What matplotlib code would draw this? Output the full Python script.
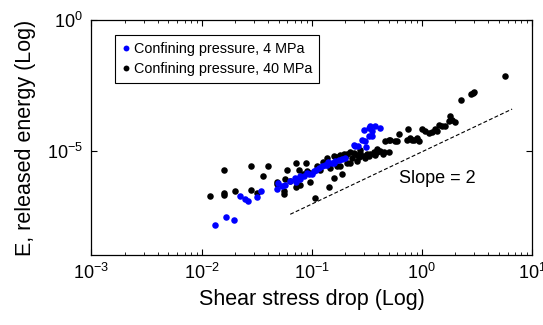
import numpy as np
import matplotlib
matplotlib.use('Agg')
import matplotlib.pyplot as plt

plt.rcParams['font.family'] = ['Liberation Sans', 'DejaVu Sans']
plt.rcParams['mathtext.fontset'] = 'custom'
plt.rcParams['mathtext.rm'] = 'Liberation Sans'

# confining pressure 4 MPa
shear_4 = [0.0132, 0.0167, 0.0198, 0.0221, 0.0249, 0.0262, 0.0319, 0.0348, 0.0483, 0.0499,
           0.0539, 0.0574, 0.0637, 0.0708, 0.0723, 0.0786, 0.0786, 0.0842, 0.0904, 0.0935,
           0.1004, 0.1038, 0.1153, 0.1238, 0.1327, 0.1374, 0.1527, 0.1578, 0.1635, 0.1752,
           0.1881, 0.2016, 0.2399, 0.2486, 0.2609, 0.2860, 0.3065, 0.311, 0.2958, 0.3285,
           0.3402, 0.3778, 0.4196, 0.3527, 0.3527, 0.3285, 0.1099, 0.1413]
energy_4 = [1.41e-8, 2.90e-8, 2.26e-8, 1.83e-7, 1.37e-7, 1.15e-7, 1.65e-7, 2.72e-7, 3.24e-7, 5.85e-7,
            4.34e-7, 4.82e-7, 6.73e-7, 9.08e-7, 6.17e-7, 7.82e-7, 1.045e-6, 1.045e-6, 1.41e-6, 1.21e-6,
            1.21e-6, 1.62e-6, 2.19e-6, 2.52e-6, 2.92e-6, 2.92e-6, 3.40e-6, 3.40e-6, 3.91e-6, 4.53e-6,
            4.82e-6, 5.26e-6, 1.59e-5, 1.46e-5, 1.55e-5, 2.63e-5, 2.26e-5, 1.34e-5, 6.05e-5, 7.35e-5,
            8.45e-5, 9.0e-5, 7.35e-5, 5.46e-5, 3.52e-5, 3.52e-5, 1.88e-6, 3.80e-6]

# confining pressure 40 MPa
shear_40 = [0.01195, 0.0159, 0.0159, 0.0159, 0.0199, 0.028, 0.040, 0.036, 0.028, 0.0316,
            0.0483, 0.0483, 0.0562, 0.0562, 0.0595, 0.0637, 0.0718, 0.0878, 0.0759, 0.0969,
            0.1076, 0.0969, 0.1114, 0.1422, 0.1578, 0.1881, 0.1374, 0.1694, 0.1578, 0.1815,
            0.1945, 0.2089, 0.2239, 0.2399, 0.2576, 0.2761, 0.2958, 0.3177, 0.3402, 0.3645,
            0.3915, 0.4196, 0.4496, 0.4989, 0.2089, 0.2239, 0.2576, 0.1815, 0.1472, 0.1694,
            0.3065, 0.4656, 0.4989, 0.5172, 0.5741, 0.5951, 0.6152, 0.7534, 0.7335, 0.7861,
            0.8147, 0.8424, 0.9045, 0.9354, 1.004, 1.076, 1.153, 1.238, 1.327, 1.421,
            1.526, 1.374, 1.636, 1.752, 1.816, 1.882, 2.016, 2.277, 2.805, 2.89,
            2.958, 5.68, 0.1194, 0.1272, 0.0786, 0.0723, 0.0837, 0.2016, 0.2318, 0.2670,
            0.3285, 0.3778, 0.4405, 0.2761, 0.393, 0.0574, 0.0904]
energy_40 = [1.87e-7, 1.73e-6, 2.39e-7, 1.97e-7, 2.72e-7, 2.67e-6, 2.52e-6, 1.045e-6, 2.97e-7, 2.43e-7,
             6.38e-7, 5.36e-7, 2.72e-7, 2.09e-7, 1.77e-6, 6.56e-7, 3.40e-6, 3.40e-6, 1.88e-6, 1.41e-6,
             1.57e-7, 6.17e-7, 2.52e-6, 3.97e-7, 9.08e-7, 1.21e-6, 5.26e-6, 5.75e-6, 6.05e-6, 6.73e-6,
             7.67e-6, 7.67e-6, 8.61e-6, 8.17e-6, 7.03e-6, 8.17e-6, 6.44e-6, 7.67e-6, 7.67e-6, 8.61e-6,
             8.61e-6, 9.40e-6, 9.16e-6, 8.61e-6, 3.40e-6, 3.40e-6, 3.91e-6, 2.67e-6, 2.24e-6, 2.45e-6,
             5.18e-6, 2.26e-5, 2.63e-5, 2.47e-5, 2.41e-5, 2.26e-5, 4.46e-5, 6.73e-5, 2.63e-5, 3.05e-5,
             2.63e-5, 2.63e-5, 3.05e-5, 2.41e-5, 6.62e-5, 5.46e-5, 4.74e-5, 5.31e-5, 6.92e-5, 9.40e-5,
             8.45e-5, 5.46e-5, 8.45e-5, 1.31e-4, 2.17e-4, 1.52e-4, 1.28e-4, 8.69e-4, 1.43e-3, 1.66e-3,
             1.74e-3, 7.16e-3, 1.88e-6, 3.80e-6, 4.61e-7, 3.87e-7, 1.32e-6, 5.5e-6, 5.2e-6, 5.6e-6,
             6.0e-6, 6.6e-6, 7.3e-6, 1.09e-5, 1.19e-5, 7.82e-7, 1.62e-6]

# slope = 2 reference line
slope_x = np.array([0.0638, 6.6])
slope_c = 8.9e-6

fig = plt.figure(figsize=(5.43, 3.25), dpi=100)
ax = fig.add_axes([0.1685, 0.2154, 0.8112, 0.7231])

ax.plot(shear_40, energy_40, 'o', color='black', ms=4.7, mec='none', zorder=2,
        label='Confining pressure, 40 MPa')
ax.plot(shear_4, energy_4, 'o', color='#0000ff', ms=4.7, mec='none', zorder=3,
        label='Confining pressure, 4 MPa')
ax.plot(slope_x, slope_c * slope_x**2, color='black', lw=0.8, ls=(0, (3.5, 2)))
ax.text(1.37, 8.5e-7, 'Slope = 2', fontsize=13, ha='center', va='center')

ax.set_xscale('log')
ax.set_yscale('log')
ax.set_xlim(1e-3, 1e1)
ax.set_ylim(1e-9, 1e0)
ax.set_yticks([1e-5, 1e0])
ax.yaxis.set_minor_locator(matplotlib.ticker.NullLocator())
ax.tick_params(which='both', direction='in', top=True, right=True, labelsize=13)
ax.tick_params(which='major', length=4, width=0.8, pad=6)
ax.tick_params(which='minor', length=2.2, width=0.6)
for s in ax.spines.values():
    s.set_linewidth(0.9)

ax.set_xlabel('Shear stress drop (Log)', fontsize=15.5, labelpad=4)
ax.set_ylabel('E, released energy (Log)', fontsize=15.5, labelpad=8)

h, l = ax.get_legend_handles_labels()
leg = ax.legend(h[::-1], l[::-1], loc='upper left', bbox_to_anchor=(0.053, 0.936),
                borderaxespad=0, fontsize=10.4, handlelength=0.5, handletextpad=0.3,
                markerscale=0.9, fancybox=False, edgecolor='black', framealpha=1,
                borderpad=0.5, labelspacing=0.4)
leg.get_frame().set_linewidth(0.8)

plt.savefig('out.png', dpi=100)
